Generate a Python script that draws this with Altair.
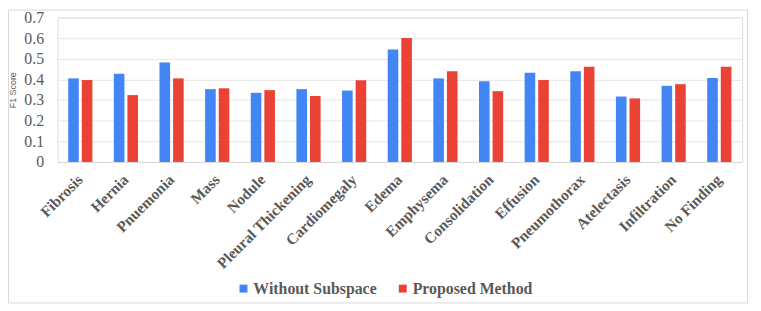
import altair as alt
import pandas as pd

categories = ["Fibrosis", "Hernia", "Pnuemonia", "Mass", "Nodule", "Pleural Thickening",
              "Cardiomegaly", "Edema", "Emphysema", "Consolidation", "Effusion",
              "Pneumothorax", "Atelectasis", "Infiltration", "No Finding"]
without_subspace = [0.405, 0.428, 0.482, 0.353, 0.335, 0.353, 0.346, 0.545, 0.405,
                    0.391, 0.432, 0.439, 0.317, 0.369, 0.407]
proposed = [0.397, 0.324, 0.405, 0.357, 0.348, 0.320, 0.396, 0.601, 0.439,
            0.343, 0.397, 0.461, 0.308, 0.377, 0.461]
series = ["Without Subspace", "Proposed Method"]
colors = ["#4285F4", "#EA4335"]

rows = []
for i, c in enumerate(categories):
    rows.append({"cat": c, "series": series[0], "v": without_subspace[i]})
    rows.append({"cat": c, "series": series[1], "v": proposed[i]})
df = pd.DataFrame(rows)

W, H = 692, 146

bars = alt.Chart(df).mark_bar().encode(
    x=alt.X("cat:N", sort=categories, title=None,
            scale=alt.Scale(paddingInner=0.47, paddingOuter=0.235),
            axis=alt.Axis(labelAngle=-45, labelAlign="right", labelBaseline="middle",
                          labelFont="Liberation Serif", labelFontWeight="bold",
                          labelFontSize=15.5, labelColor="#595959", labelPadding=15,
                          ticks=False, domainColor="#d9d9d9", grid=False)),
    xOffset=alt.XOffset("series:N", sort=series, scale=alt.Scale(paddingInner=0.22)),
    y=alt.Y("v:Q", title="F1 Score",
            scale=alt.Scale(domain=[0, 0.7]),
            axis=alt.Axis(values=[0, 0.1, 0.2, 0.3, 0.4, 0.5, 0.6, 0.7], format=".1~f",
                          labelFont="Liberation Serif", labelFontSize=16,
                          labelColor="#595959", labelPadding=14, ticks=False,
                          domain=False, gridColor="#e6e6e6",
                          titleFont="Liberation Sans", titleFontSize=9,
                          titleFontWeight="normal", titleColor="#595959",
                          titlePadding=6)),
    color=alt.Color("series:N", sort=series,
                    scale=alt.Scale(domain=series, range=colors),
                    legend=alt.Legend(title=None, orient="none", direction="horizontal",
                                      legendX=180, legendY=266,
                                      symbolType="square", symbolSize=64,
                                      symbolStrokeWidth=0, labelFont="Liberation Serif",
                                      labelFontWeight="bold", labelFontSize=16,
                                      labelColor="#595959", labelOffset=2,
                                      columnPadding=18)),
)

border = alt.Chart(pd.DataFrame({"k": [0]})).mark_rect(
    fill=None, stroke="#d9d9d9", strokeWidth=1
).encode(x=alt.value(-49.5), x2=alt.value(W + 5.5), y=alt.value(-7.5), y2=alt.value(H + 142.5))

chart = alt.layer(border, bars).properties(
    width=W, height=H,
    autosize=alt.AutoSizeParams(type="none"),
    padding={"left": 50, "top": 8, "right": 11, "bottom": 146},
).configure_view(stroke=None).configure(background="white")

chart.save("out.html", embed_options={"renderer": "svg", "actions": False})
